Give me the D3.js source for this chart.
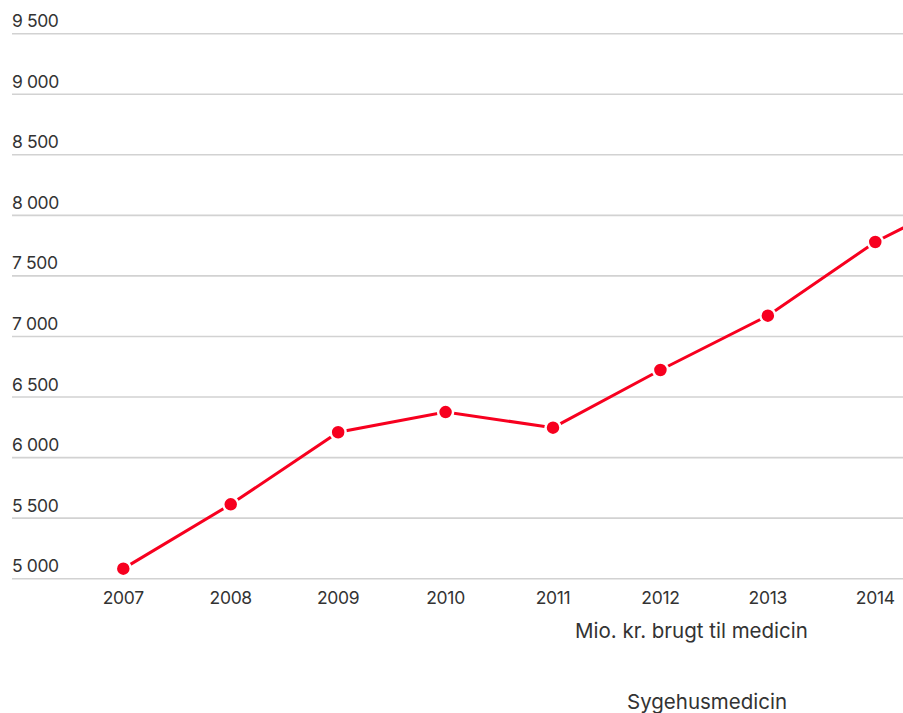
<!DOCTYPE html>
<html>
<head>
<meta charset="utf-8">
<script src="https://cdn.jsdelivr.net/npm/d3@7"></script>
<style>
  body { margin: 0; background: #fff; overflow: hidden; }
  svg { display: block; }
  text { font-family: Inter, Lato, sans-serif; fill: #333; }
</style>
</head>
<body>
<svg id="chart"></svg>
<script>
// Sygehusmedicin, mio. kr.
const years = [2007, 2008, 2009, 2010, 2011, 2012, 2013, 2014, 2015];
const values = [5083, 5614, 6209, 6376, 6247, 6723, 7172, 7780, 8230];
const yTicks = [5000, 5500, 6000, 6500, 7000, 7500, 8000, 8500, 9000, 9500];
// 2015 lies outside the window, so its label is not drawn
const xLabels = ['2007', '2008', '2009', '2010', '2011', '2012', '2013', '2014'];

const width = 903, height = 713;
const svg = d3.select('#chart').attr('width', width).attr('height', height);

const x = d3.scaleLinear().domain([2007, 2015]).range([123.3, 982.7]);
const y = d3.scaleLinear().domain([5000, 9500]).range([578.7, 33.7]);

const fmt = v => d3.format(',')(v).replace(',', ' ');

// gridlines + y labels
const grid = svg.append('g');
grid.selectAll('line')
  .data(yTicks)
  .join('line')
  .attr('x1', 12)
  .attr('x2', 1000)
  .attr('y1', d => y(d))
  .attr('y2', d => y(d))
  .attr('stroke', '#d2d2d2')
  .attr('stroke-width', 1.6);
grid.selectAll('text')
  .data(yTicks)
  .join('text')
  .attr('x', 12)
  .attr('y', d => y(d) - 6.5)
  .attr('font-size', 17.5)
  .attr('letter-spacing', -0.4)
  .text(fmt);

// x labels
svg.append('g').selectAll('text')
  .data(xLabels)
  .join('text')
  .attr('x', d => x(+d))
  .attr('y', 604)
  .attr('text-anchor', 'middle')
  .attr('font-size', 17.5)
  .attr('letter-spacing', -0.3)
  .text(d => d);

const pts = years.map((d, i) => [d, values[i]]);

svg.append('path')
  .datum(pts)
  .attr('fill', 'none')
  .attr('stroke', '#f7001f')
  .attr('stroke-width', 3)
  .attr('d', d3.line().x(d => x(d[0])).y(d => y(d[1])));

svg.append('g').selectAll('circle')
  .data(pts)
  .join('circle')
  .attr('cx', d => x(d[0]))
  .attr('cy', d => y(d[1]))
  .attr('r', 7.5)
  .attr('fill', '#f7001f')
  .attr('stroke', '#fff')
  .attr('stroke-width', 2.5);

// captions
svg.append('text')
  .attr('x', 575)
  .attr('y', 638)
  .attr('font-size', 20.5)
  .text('Mio. kr. brugt til medicin');

svg.append('text')
  .attr('x', 627)
  .attr('y', 709)
  .attr('font-size', 20.5)
  .text('Sygehusmedicin');
</script>
</body>
</html>
